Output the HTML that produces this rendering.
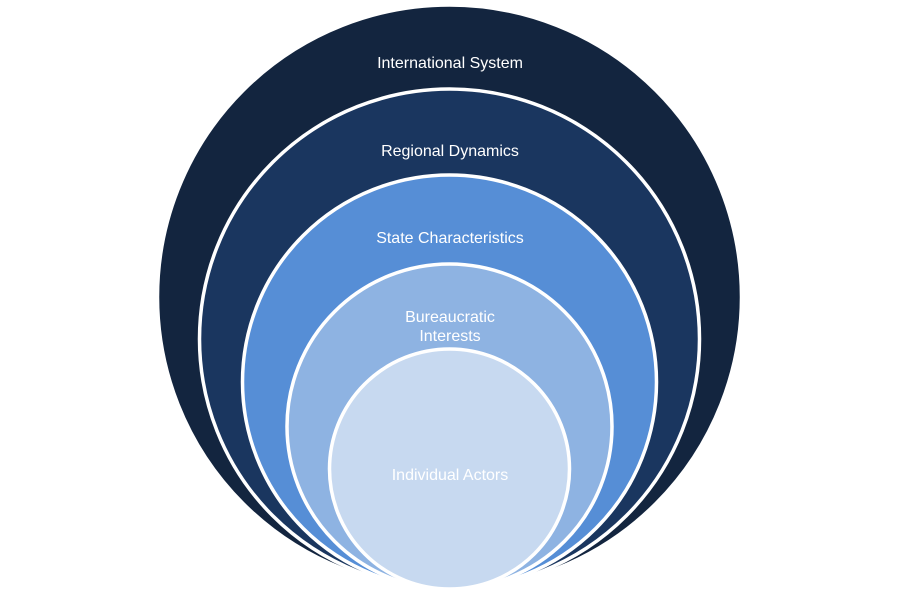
<!DOCTYPE html>
<html><head><style>html,body{margin:0;padding:0;background:#fff;}svg{display:block}</style></head>
<body>
<svg width="900" height="594" viewBox="0 0 900 594" xmlns="http://www.w3.org/2000/svg">
<g stroke="#fff" stroke-width="3.5">
<circle cx="449.5" cy="297" r="292" fill="#13253f"/>
<circle cx="449.5" cy="339" r="250" fill="#1a365f"/>
<circle cx="449.5" cy="382" r="207" fill="#568ed6"/>
<circle cx="449.5" cy="426.5" r="162.5" fill="#8eb3e2"/>
<circle cx="449.5" cy="469" r="120" fill="#c7d9f0"/>
</g>
<g fill="#fff" font-family="'Liberation Sans', sans-serif" font-size="16" text-anchor="middle">
<text x="450" y="68">International System</text>
<text x="450" y="156">Regional Dynamics</text>
<text x="450" y="243">State Characteristics</text>
<text x="450" y="322">Bureaucratic</text>
<text x="450" y="341">Interests</text>
<text x="450" y="480">Individual Actors</text>
</g>
</svg>
</body></html>
